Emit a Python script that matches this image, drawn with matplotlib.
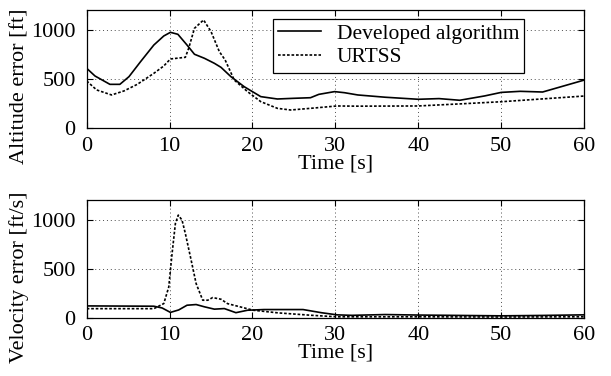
import numpy as np
import matplotlib
matplotlib.use("Agg")
import matplotlib.pyplot as plt

plt.rcParams['font.family'] = ['Liberation Serif', 'DejaVu Serif']
plt.rcParams['font.size'] = 16

# altitude error [ft]
t_alt_dev = [0, 1, 2.8, 4, 5.1, 6.5, 8.1, 9.3, 10.1, 11, 12.1, 13, 14.2, 15.4, 16.2,
             17.4, 19, 21, 23, 25, 27, 28, 29.9, 31.1, 32.7, 36, 40, 42.5, 45,
             48, 50, 52.3, 55, 60]
alt_dev = [610, 532, 447, 447, 525, 678, 847, 939, 976, 956, 847, 753, 712, 661, 620,
           525, 423, 322, 298, 305, 311, 345, 373, 362, 339, 316, 295, 302, 285,
           329, 365, 376, 369, 490]

t_alt_urt = [0, 1.2, 3, 4.5, 6.1, 8.1, 9.3, 10.1, 11.9, 12.3, 13, 14.1, 15, 16,
             16.7, 17.8, 19.4, 21, 23, 24.6, 27, 30.2, 32.7, 40, 44, 45, 50, 60]
alt_urt = [481, 390, 339, 380, 447, 559, 634, 705, 722, 813, 1017, 1102, 983, 780,
           695, 491, 373, 271, 203, 186, 203, 227, 225, 227, 244, 248, 270, 328]

# velocity error [ft/s]
t_vel_dev = [0, 8.1, 9.1, 10.1, 11.1, 12.1, 13.2, 14.2, 15.4, 16.6, 18, 19.4, 21.4,
             26.1, 28.3, 30.2, 32, 36, 40, 45, 50, 55, 60]
vel_dev = [121, 118, 100, 55, 80, 128, 135, 112, 88, 94, 52, 77, 84,
           84, 52, 30, 25, 33, 28, 24, 20, 24, 30]

t_vel_urt = [0, 8.1, 9.3, 9.9, 10.3, 10.7, 11.05, 11.5, 11.9, 12.6, 13.2, 14, 14.6,
             15.2, 16.2, 17, 20.1, 23.1, 27.2, 30.2, 35, 40, 50, 60]
vel_urt = [93, 93, 145, 314, 655, 961, 1046, 995, 859, 587, 349, 179, 179,
           206, 189, 144, 77, 50, 25, 10, 10, 10, 8, 10]

xticks = [0, 10, 20, 30, 40, 50, 60]
yticks = [0, 500, 1000]

fig = plt.figure(figsize=(6.11, 3.76), dpi=100)
ax1 = fig.add_axes([0.1419, 0.6588, 0.8140, 0.3138])
ax2 = fig.add_axes([0.1419, 0.1548, 0.8140, 0.3133])

dots = (0, (1.6, 1.1))

for ax in (ax1, ax2):
    ax.set_xlim(0, 60)
    ax.set_ylim(0, 1200)
    ax.set_xticks(xticks)
    ax.set_yticks(yticks)
    ax.tick_params(direction='in', top=True, right=True, length=4, width=0.8,
                   labelsize=16)
    ax.tick_params(axis='x', pad=6)
    ax.tick_params(axis='y', pad=8)
    ax.grid(True, linestyle=(0, (1, 3)), color='0.3', linewidth=0.7)
    for s in ax.spines.values():
        s.set_linewidth(0.9)
    ax.set_xlabel("Time [s]", fontsize=16, labelpad=-1)

ax1.plot(t_alt_dev, alt_dev, color='black', linewidth=1.2, label="Developed algorithm")
ax1.plot(t_alt_urt, alt_urt, color='black', linewidth=1.2, linestyle=dots, label="URTSS")
ax1.set_ylabel("Altitude error [ft]", fontsize=16)
ax1.yaxis.set_label_coords(-0.116, 0.36)
leg = ax1.legend(loc='upper left', bbox_to_anchor=(0.3746, 0.93), borderaxespad=0,
                 fancybox=False, framealpha=1, edgecolor='black', fontsize=15.5,
                 handlelength=2.0, handletextpad=0.7, borderpad=0.25, labelspacing=0.15)
leg.get_frame().set_linewidth(0.9)

ax2.plot(t_vel_dev, vel_dev, color='black', linewidth=1.2)
ax2.plot(t_vel_urt, vel_urt, color='black', linewidth=1.2, linestyle=dots)
ax2.set_ylabel("Velocity error [ft/s]", fontsize=16)
ax2.yaxis.set_label_coords(-0.116, 0.34)

fig.savefig("out.png", dpi=100)
